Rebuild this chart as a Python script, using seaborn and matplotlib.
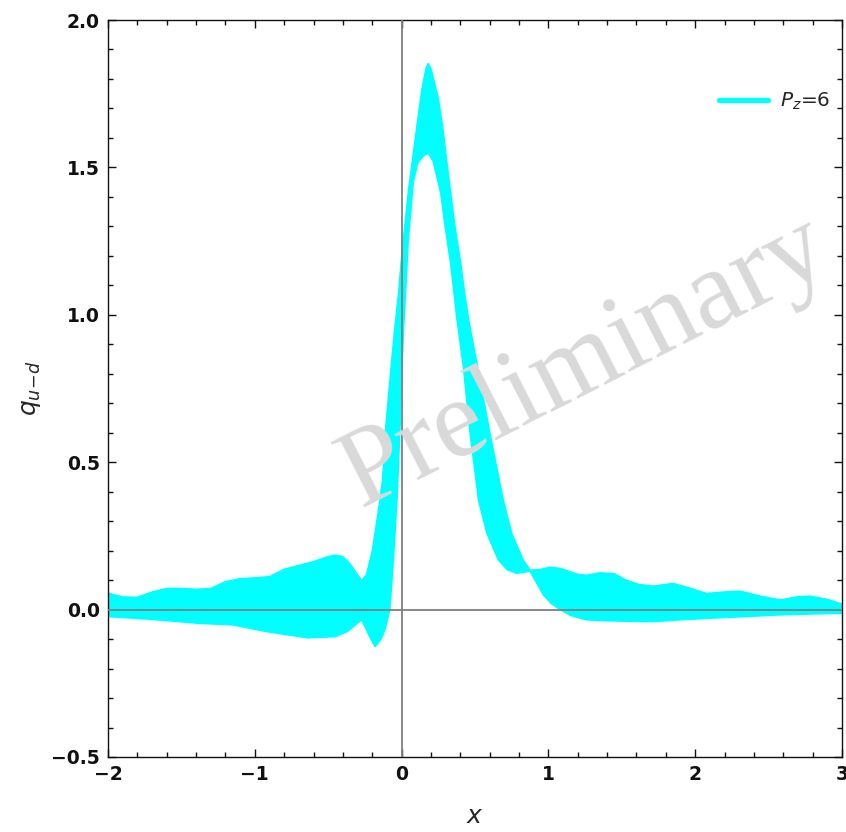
import numpy as np
import pandas as pd
import matplotlib
matplotlib.use("Agg")
import matplotlib.pyplot as plt
from matplotlib.ticker import MultipleLocator
from matplotlib.lines import Line2D
import seaborn as sns

# ---- data: upper and lower edges of the P_z=6 band ----
x_upper = [-2.0, -1.9, -1.8, -1.7, -1.6, -1.5, -1.4, -1.3, -1.2, -1.1, -1.0, -0.9,
           -0.8, -0.7, -0.6, -0.5, -0.45, -0.4, -0.35, -0.3, -0.272, -0.24, -0.2,
           -0.16, -0.13, -0.11, -0.08, -0.05, -0.02, 0.0, 0.046, 0.091, 0.137, 0.165, 0.182,
           0.20, 0.25, 0.28, 0.307, 0.335, 0.364, 0.40, 0.43, 0.46, 0.523, 0.602, 0.693,
           0.75, 0.829, 0.875, 0.95, 1.01, 1.08, 1.2, 1.26, 1.35, 1.45, 1.53, 1.62,
           1.715, 1.85, 1.95, 2.078, 2.2, 2.305, 2.45, 2.58, 2.7, 2.78, 2.9, 3.0]
upper = [0.056, 0.043, 0.042, 0.060, 0.072, 0.072, 0.069, 0.072, 0.095, 0.105, 0.108, 0.112,
         0.137, 0.150, 0.163, 0.180, 0.185, 0.180, 0.155, 0.118, 0.100, 0.118, 0.200,
         0.330, 0.440, 0.610, 0.780, 0.940, 1.080, 1.200, 1.420, 1.593, 1.763, 1.835, 1.853,
         1.835, 1.735, 1.638, 1.525, 1.412, 1.299, 1.186, 1.073, 0.975, 0.810, 0.598, 0.372,
         0.259, 0.168, 0.134, 0.137, 0.144, 0.140, 0.120, 0.117, 0.125, 0.122, 0.100, 0.085,
         0.080, 0.089, 0.075, 0.055, 0.060, 0.063, 0.045, 0.033, 0.044, 0.046, 0.035, 0.019]

x_lower = [-2.0, -1.714, -1.373, -1.15, -0.919, -0.64, -0.45, -0.42, -0.37, -0.33, -0.272,
           -0.22, -0.18, -0.14, -0.113, -0.08, -0.057, -0.03, -0.011, 0.012, 0.046, 0.08,
           0.11, 0.15, 0.182, 0.215, 0.266, 0.296, 0.33, 0.355, 0.375, 0.42, 0.466, 0.523,
           0.58, 0.659, 0.72, 0.784, 0.875, 0.92, 0.965, 1.02, 1.08, 1.15, 1.26, 1.4, 1.55,
           1.715, 1.9, 2.078, 2.3, 2.58, 2.8, 3.0]
lower = [-0.024, -0.033, -0.047, -0.052, -0.075, -0.096, -0.092, -0.085, -0.075, -0.058, -0.035,
         -0.090, -0.126, -0.100, -0.069, 0.000, 0.157, 0.383, 0.609, 0.930, 1.254, 1.450,
         1.515, 1.540, 1.548, 1.520, 1.412, 1.299, 1.186, 1.080, 0.990, 0.824, 0.598, 0.372,
         0.259, 0.168, 0.135, 0.123, 0.130, 0.090, 0.050, 0.020, 0.000, -0.020, -0.035, -0.038, -0.040,
         -0.041, -0.035, -0.030, -0.025, -0.018, -0.015, -0.013]

series_label = r"$P_z$=6"
band_color = "#00ffff"
x_ticks = [-2, -1, 0, 1, 2, 3]
y_ticks = [-0.5, 0.0, 0.5, 1.0, 1.5, 2.0]

# ---- figure ----
sns.set_style("ticks")
plt.rcParams["font.family"] = ["DejaVu Sans"]
plt.rcParams["mathtext.fontset"] = "dejavusans"

fig = plt.figure(figsize=(8.46, 8.32), dpi=100)
ax = fig.add_axes([108 / 846, 1 - 757 / 832, (842 - 108) / 846, (757 - 20) / 832])

up_df = pd.DataFrame({"x": x_upper, "y": upper})
lo_df = pd.DataFrame({"x": x_lower, "y": lower})

poly_x = np.concatenate([np.array(x_upper), np.array(x_lower)[::-1]])
poly_y = np.concatenate([np.array(upper), np.array(lower)[::-1]])
ax.fill(poly_x, poly_y, color=band_color, lw=0, zorder=2)
sns.lineplot(data=up_df, x="x", y="y", ax=ax, color=band_color, lw=1.0, zorder=2,
             sort=False, estimator=None)
sns.lineplot(data=lo_df, x="x", y="y", ax=ax, color=band_color, lw=1.0, zorder=2,
             sort=False, estimator=None)

ax.axhline(0, color="#7f7f7f", lw=1.3, zorder=3)
ax.axvline(0, color="#7f7f7f", lw=1.3, zorder=3)

ax.set_xlim(-2, 3)
ax.set_ylim(-0.5, 2.0)
ax.set_xticks(x_ticks)
ax.set_yticks(y_ticks)
ax.set_xticklabels(["\u22122", "\u22121", "0", "1", "2", "3"])
ax.set_yticklabels(["\u22120.5", "0.0", "0.5", "1.0", "1.5", "2.0"])
ax.xaxis.set_minor_locator(MultipleLocator(0.2))
ax.yaxis.set_minor_locator(MultipleLocator(0.1))
ax.tick_params(which="both", direction="in", top=True, right=True, color="#111111",
               width=1.0)
ax.tick_params(which="major", length=6, labelsize=13.5, pad=6, labelcolor="#111111")
ax.tick_params(which="minor", length=3.5)
for lab in ax.get_xticklabels() + ax.get_yticklabels():
    lab.set_fontweight("semibold")
for s in ax.spines.values():
    s.set_color("#111111")
    s.set_linewidth(1.0)

ax.set_xlabel(r"$x$", fontsize=18, labelpad=14)
ax.set_ylabel(r"$q_{u\!-\!d}$", fontsize=18, labelpad=6)

handle = Line2D([0], [0], color=band_color, lw=3.8)
leg = ax.legend([handle], [series_label], loc="center right", frameon=False,
                fontsize=14.5, handlelength=2.4, handletextpad=0.6,
                bbox_to_anchor=(0.995, 0.889), borderaxespad=0.0)

ax.text(0.65, 0.535, "Preliminary", transform=ax.transAxes, fontsize=81,
        family="Liberation Serif", color="#d9d9d9", rotation=27,
        ha="center", va="center", rotation_mode="anchor", zorder=5)

fig.savefig("out.png", dpi=100)
